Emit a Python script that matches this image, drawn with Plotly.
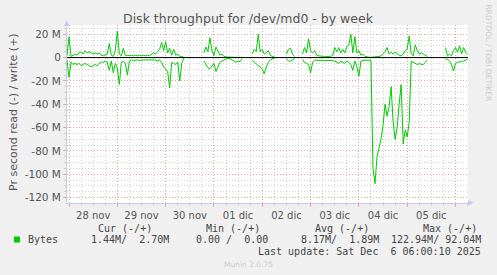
import pandas as pd
import plotly.graph_objects as go

# ---------------- data (values in M bytes/s) ----------------
# hourly samples from 2025-11-27 23:00 to 2025-12-06 06:00 (200 points)
start_time = "2025-11-27 23:00"
N = None
write_vals = (
    [1.5] +
    # 28 nov
    [18, 1, 2, 3, 2, 4, 5, 3, 6, 4, 5, 4, 3, 4, 3, 4, 2, 1.5, 2, 3, 12, 2, 1, 6] +
    # 29 nov
    [22.6, 3, 1.5, 8, 1.5, 2, 1.5, 2, 1.5, 2, 1.5, 2, 1.5, 2, 1.5, 2, 1.5, 3, 4, 3, 5, 7, 13, 6] +
    # 30 nov
    [13.5, 4, 8, 2, 7, 2, 3, 1, 1, 0.3, N, N, N, N, N, N, N, N, N, 4, 9, 5, 17, 6] +
    # 01 dic
    [1.7, 9, 5, 2, 3, 1, 0.5, 0.3, 0.2, 0.2, 0.2, 0.2, 0.2, 0.2, 0.1, N, N, N, N, 3, 7, 5, 20, 5] +
    # 02 dic
    [7, 3, 4, 6, 2, 1, 0.5, N, N, N, N, N, 3, 7, 8, 3, 1, N, N, N, 3, 8.6, 4, 16] +
    # 03 dic
    [6, 4, 6, 2, 1.5, 1, 1, 1, 1, 1, 1, 2, 8.6, 5, 8.6, 4, 7, 4, 9, 11, 20, 4, 18, 4] +
    # 04 dic
    [6, 2, 3, 1, 0.5, 0.3, 0.2, 0.3, 0.3, 0.5, 1, 1.5, 3, 5, 8.6, 3, 4.5, 3, 4.5, 3, 2, 1.5, 3, 6] +
    # 05 dic
    [7.5, 18.6, 3, 1.5, 11, 6, 3, 4, 3, 1.5, 1, N, N, N, N, N, N, N, N, 8.6, 1.5, 3, 1.5, 6] +
    # 06 dic
    [8.6, 4.5, 10, 3, 8.6, 4.5, 2.7]
)
read_vals = (
    [-2] +
    # 28 nov
    [-17, -4, -6, -5, -6, -5, -7, -6, -5, -6, -7, -8, -7, -6, -7, -5, -4, -4, -3, -4, -11, -3, -13, -5] +
    # 29 nov
    [-9, -23, -4, -3, -5, -15, -3, -2, -2.5, -2, -2, -2.5, -2, -2, -2, -2, -2, -2, -2.5, -2, -3, -2, -4, -8] +
    # 30 nov
    [-10, -12, -26, -4, -5, -6, -4, -20, -5, -0.5, N, N, N, N, N, N, N, N, N, -3, -6, -8.6, -9.6, -7] +
    # 01 dic
    [-5, -12, -8, -4, -3, -2, -1, -0.5, -1, -2, -3.7, -4, -3, -3.5, -1, N, N, N, N, -2, -4, -5.5, -7, -8] +
    # 02 dic
    [-10, -14, -8, -4, -2, -1, -0.5, N, N, N, N, N, -1, -3, -3, -2, -1, N, N, N, -1.5, -4, -5, -6] +
    # 03 dic
    [-13, -4, -2.3, -2.3, -2.3, -2.3, -2.3, -2.3, -2.3, -2.3, -2.3, -2.5, -3, -4, -5, -3, -4, -5, -3, -4, -6, -11, -3, -8] +
    # 04 dic
    [-16, -3, -2.3, -2.3, -2.3, -2.3, -2.3, -95, -108, -85, -78, -70, -58, -40, -50, -42, -25, -55, -70, -60, -40, -23, -74, -62] +
    # 05 dic
    [-68, -55, -3, -4, -5, -6, -5, -6, -6, -4, -2, N, N, N, N, N, N, N, N, -1.5, -1.5, -3, -6, -11.5] +
    # 06 dic
    [-5, -4, -4, -3.5, -3, -2, -1.44]
)

day_labels = ["28 nov", "29 nov", "30 nov", "01 dic", "02 dic", "03 dic", "04 dic", "05 dic"]
day_starts = ["2025-11-28", "2025-11-29", "2025-11-30", "2025-12-01", "2025-12-02",
              "2025-12-03", "2025-12-04", "2025-12-05", "2025-12-06"]
y_tickvals = [20, 0, -20, -40, -60, -80, -100, -120]
y_ticktext = ["20 M", "0", "-20 M", "-40 M", "-60 M", "-80 M", "-100 M", "-120 M"]

series_name = "Bytes"
cur_vals = ["1.44M", "2.70M"]
min_vals = ["0.00 ", "0.00"]
avg_vals = ["8.17M", "1.89M"]
max_vals = ["122.94M", "92.04M"]
last_update = "Last update: Sat Dec  6 06:00:10 2025"

# ---------------- figure ----------------
W, H = 497, 275
PL, PR, PT, PB = 67, 468, 25, 203

def px(x):
    return (x - PL) / (PR - PL)

def py(y):
    return (PB - y) / (PB - PT)

times = pd.date_range(start_time, periods=len(write_vals), freq="h")
GREEN = "#00CC00"
MAJOR = "rgba(235,130,130,0.6)"
MINOR = "#D2D2D2"
AXIS = "#C8C8E8"
DOTS = "1px,2px"

fig = go.Figure()
fig.add_trace(go.Scatter(x=times, y=write_vals, mode="lines",
                         line=dict(color=GREEN, width=1), connectgaps=False,
                         showlegend=False, hoverinfo="skip"))
fig.add_trace(go.Scatter(x=times, y=read_vals, mode="lines",
                         line=dict(color=GREEN, width=1), connectgaps=False,
                         showlegend=False, hoverinfo="skip"))
# carrier trace for the label axis
fig.add_trace(go.Scatter(x=[times[0]], y=[None], xaxis="x2", mode="lines",
                         showlegend=False, hoverinfo="skip"))

x_range = ["2025-11-27 23:00", "2025-12-06 06:12"]
noon = [pd.Timestamp(d) + pd.Timedelta(hours=12) for d in day_starts[:-1]]

fig.update_layout(
    width=W, height=H,
    margin=dict(l=PL, r=W - PR, t=PT, b=H - PB, pad=0),
    paper_bgcolor="#F0F0F0", plot_bgcolor="#FFFFFF",
    showlegend=False,
    font=dict(family="DejaVu Sans", color="#555555", size=10),
    title=dict(text="Disk throughput for /dev/md0 - by week", x=248 / W, xref="container",
               y=1 - 19 / H, yref="container", xanchor="center", yanchor="middle",
               font=dict(family="DejaVu Sans", size=12.5, color="#555555")),
    xaxis=dict(type="date", range=x_range, tickmode="array", tickvals=day_starts,
               ticktext=[""] * len(day_starts), showgrid=True, gridcolor=MAJOR,
               griddash=DOTS, gridwidth=1, ticks="outside", ticklen=3, tickcolor=MAJOR,
               showline=True, linecolor=AXIS, linewidth=1, zeroline=False,
               minor=dict(dtick=6 * 3600 * 1000, tick0="2025-11-28", showgrid=True,
                          gridcolor=MINOR, griddash=DOTS, gridwidth=1,
                          ticks="outside", ticklen=2, tickcolor=MINOR)),
    xaxis2=dict(type="date", range=x_range, overlaying="x", anchor="y", side="bottom",
                tickmode="array", tickvals=noon, ticktext=day_labels, showgrid=False,
                ticks="outside", ticklen=3, tickcolor="rgba(0,0,0,0)", showline=False,
                zeroline=False, tickfont=dict(family="DejaVu Sans", size=10, color="#555555")),
    yaxis=dict(range=[-124.6, 27.9], tickmode="array", tickvals=y_tickvals,
               ticktext=y_ticktext, showgrid=True, gridcolor=MAJOR, griddash=DOTS,
               gridwidth=1, ticks="outside", ticklen=3, tickcolor=MAJOR,
               showline=True, linecolor=AXIS, linewidth=1, zeroline=False,
               tickfont=dict(family="DejaVu Sans", size=10.5, color="#555555"),
               minor=dict(dtick=5, tick0=0, showgrid=True, gridcolor=MINOR,
                          griddash=DOTS, gridwidth=1, ticks="outside", ticklen=2,
                          tickcolor=MINOR)),
)

# zero rule on top of data
fig.add_shape(type="line", xref="paper", yref="y", x0=0, x1=1, y0=0, y1=0,
              line=dict(color="#000000", width=1), layer="above")
# axis arrows
fig.add_shape(type="path", xref="paper", yref="paper", layer="above",
              path=f"M {px(64)} {py(26)} L {px(69.5)} {py(26)} L {px(66.8)} {py(20)} Z",
              fillcolor=AXIS, line=dict(width=0))
fig.add_shape(type="path", xref="paper", yref="paper", layer="above",
              path=f"M {px(468)} {py(200)} L {px(468)} {py(205.5)} L {px(474)} {py(202.7)} Z",
              fillcolor=AXIS, line=dict(width=0))
# legend swatch
fig.add_shape(type="rect", xref="paper", yref="paper",
              x0=px(14), x1=px(20), y0=py(242.5), y1=py(236.5),
              fillcolor=GREEN, line=dict(width=0))

MONO = dict(family="DejaVu Sans Mono", size=10, color="#444444")

def ann(text, x, y, xanchor="left", font=MONO, angle=0):
    fig.add_annotation(text=text, x=px(x), y=py(y), xref="paper", yref="paper",
                       xanchor=xanchor, yanchor="middle", showarrow=False,
                       font=font, textangle=angle)

ann("Pr second read (-) / write (+)", 13, 112, xanchor="center",
    font=dict(family="DejaVu Sans", size=11, color="#555555"), angle=-90)
ann("RRDTOOL / TOBI OETIKER", 488.5, 53, xanchor="center",
    font=dict(family="DejaVu Sans", size=7.5, color="#CCCCCC"), angle=90)

ann("Cur (-/+)", 125, 228, xanchor="center")
ann("Min (-/+)", 233, 228, xanchor="center")
ann("Avg (-/+)", 341.5, 228, xanchor="center")
ann("Max (-/+)", 450, 228, xanchor="center")
ann(series_name, 26, 239.5)
ann(f"{cur_vals[0]}/  {cur_vals[1]}", 89, 239.5)
ann(f"{min_vals[0]}/  {min_vals[1]}", 194, 239.5)
ann(f"{avg_vals[0]}/  {avg_vals[1]}", 299, 239.5)
ann(f"{max_vals[0]}/ {max_vals[1]}", 483, 239.5, xanchor="right")
ann(last_update, 483, 251, xanchor="right")
ann("Munin 2.0.75", 248, 264.5, xanchor="center",
    font=dict(family="DejaVu Sans", size=7.5, color="#CCCCCC"))

fig.write_html("out.html")
